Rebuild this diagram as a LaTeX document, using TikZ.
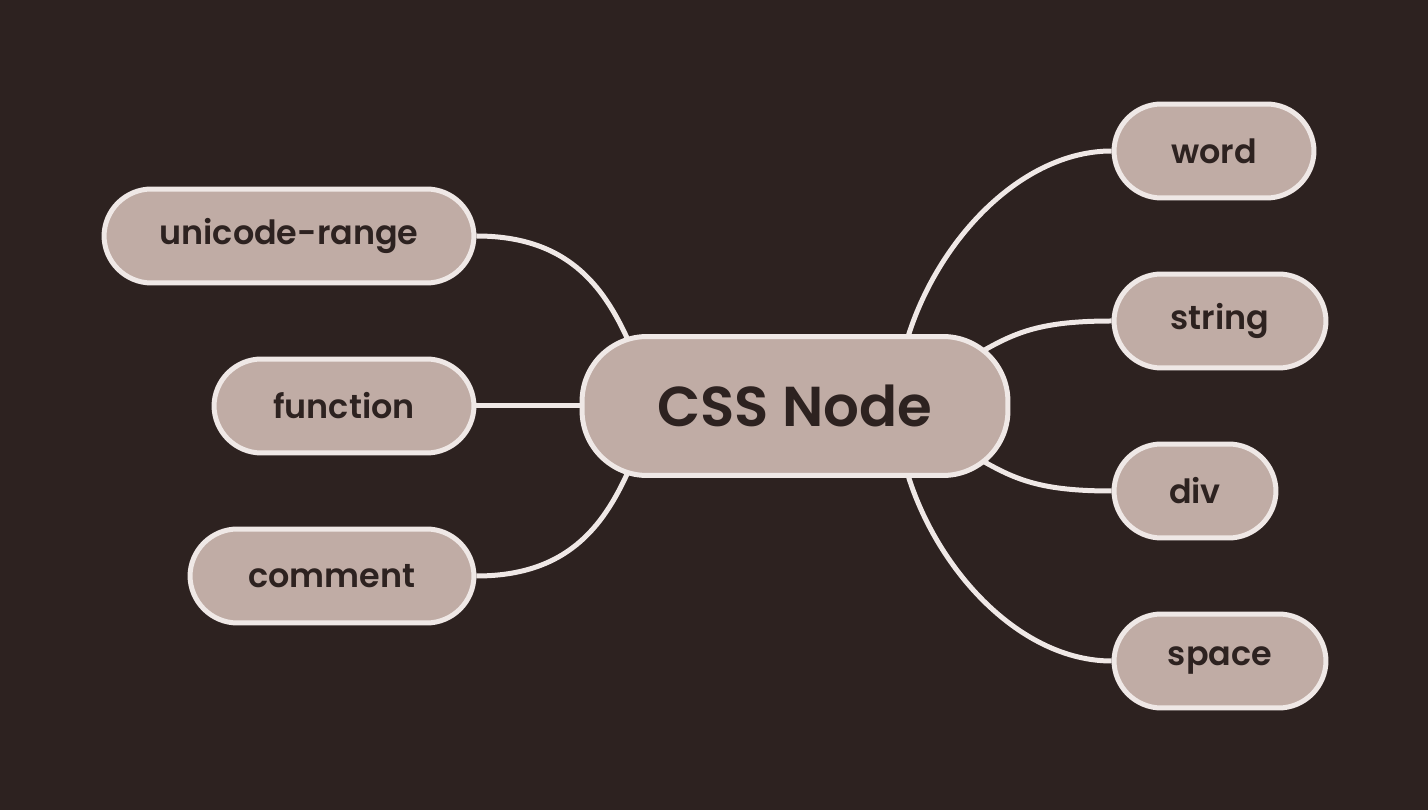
\documentclass[tikz,border=0pt]{standalone}
\usepackage{fontspec}
\setmainfont{Poppins}[BoldFont={Poppins SemiBold}]
\definecolor{cssbg}   {RGB}{45,34,32}
\definecolor{cssrose} {RGB}{192,172,165}
\definecolor{cssline} {RGB}{239,232,230}
\usetikzlibrary{calc,backgrounds}
\tikzset{
  leaf/.style={rectangle,rounded corners=9.5mm,draw=cssline,fill=cssrose,
               line width=1mm,text=cssbg,minimum height=18.8mm,
               minimum width=#1,inner sep=0pt,font=\fontsize{19}{23}\selectfont\bfseries},
  leaf/.default=40mm,
  hub/.style={rectangle,rounded corners=13mm,draw=cssline,fill=cssrose,
              line width=1mm,text=cssbg,minimum height=27.8mm,
              minimum width=85.2mm,inner sep=0pt,
              font=\fontsize{32}{38}\selectfont\bfseries},
  link/.style={draw=cssline,line width=1mm},
}
\begin{document}
\begin{tikzpicture}[x=0.02cm,y=-0.02cm]
    \useasboundingbox (0,0) rectangle (1428,810);
    \node[hub] (css) at (795,406) {CSS Node};
    \node[leaf=74mm] (urange) at (289,236) {unicode-range};
    \node[leaf=52mm] (func)   at (344,406) {function};
    \node[leaf=56.8mm] (comm) at (332,576) {comment};
    \node[leaf=40mm] (word)   at (1214,151) {word};
    \node[leaf=42.4mm] (str)  at (1220,321) {string};
    \node[leaf=32.4mm] (div)  at (1195,491) {div};
    \node[leaf=42.4mm] (spc)  at (1220,661) {space};
    \begin{scope}[on background layer]
      \fill[cssbg] (0,0) rectangle (1428,810);
      \draw[link] (urange.east) .. controls +(90,0) and +(-25,-55) .. ($(css.center)+(-167,-66)$);
      \draw[link] (func.east) -- (css.west);
      \draw[link] (comm.east) .. controls +(90,0) and +(-25,55) .. ($(css.center)+(-167,66)$);
      \draw[link] (word.west) .. controls +(-90,0) and +(30,-100) .. ($(css.center)+(112,-66)$);
      \draw[link] (str.west) .. controls +(-70,0) and +(35,-20) .. ($(css.center)+(186,-54)$);
      \draw[link] (div.west) .. controls +(-70,0) and +(35,20) .. ($(css.center)+(186,54)$);
      \draw[link] (spc.west) .. controls +(-90,0) and +(30,100) .. ($(css.center)+(112,66)$);
    \end{scope}
  \end{tikzpicture}
\end{document}
